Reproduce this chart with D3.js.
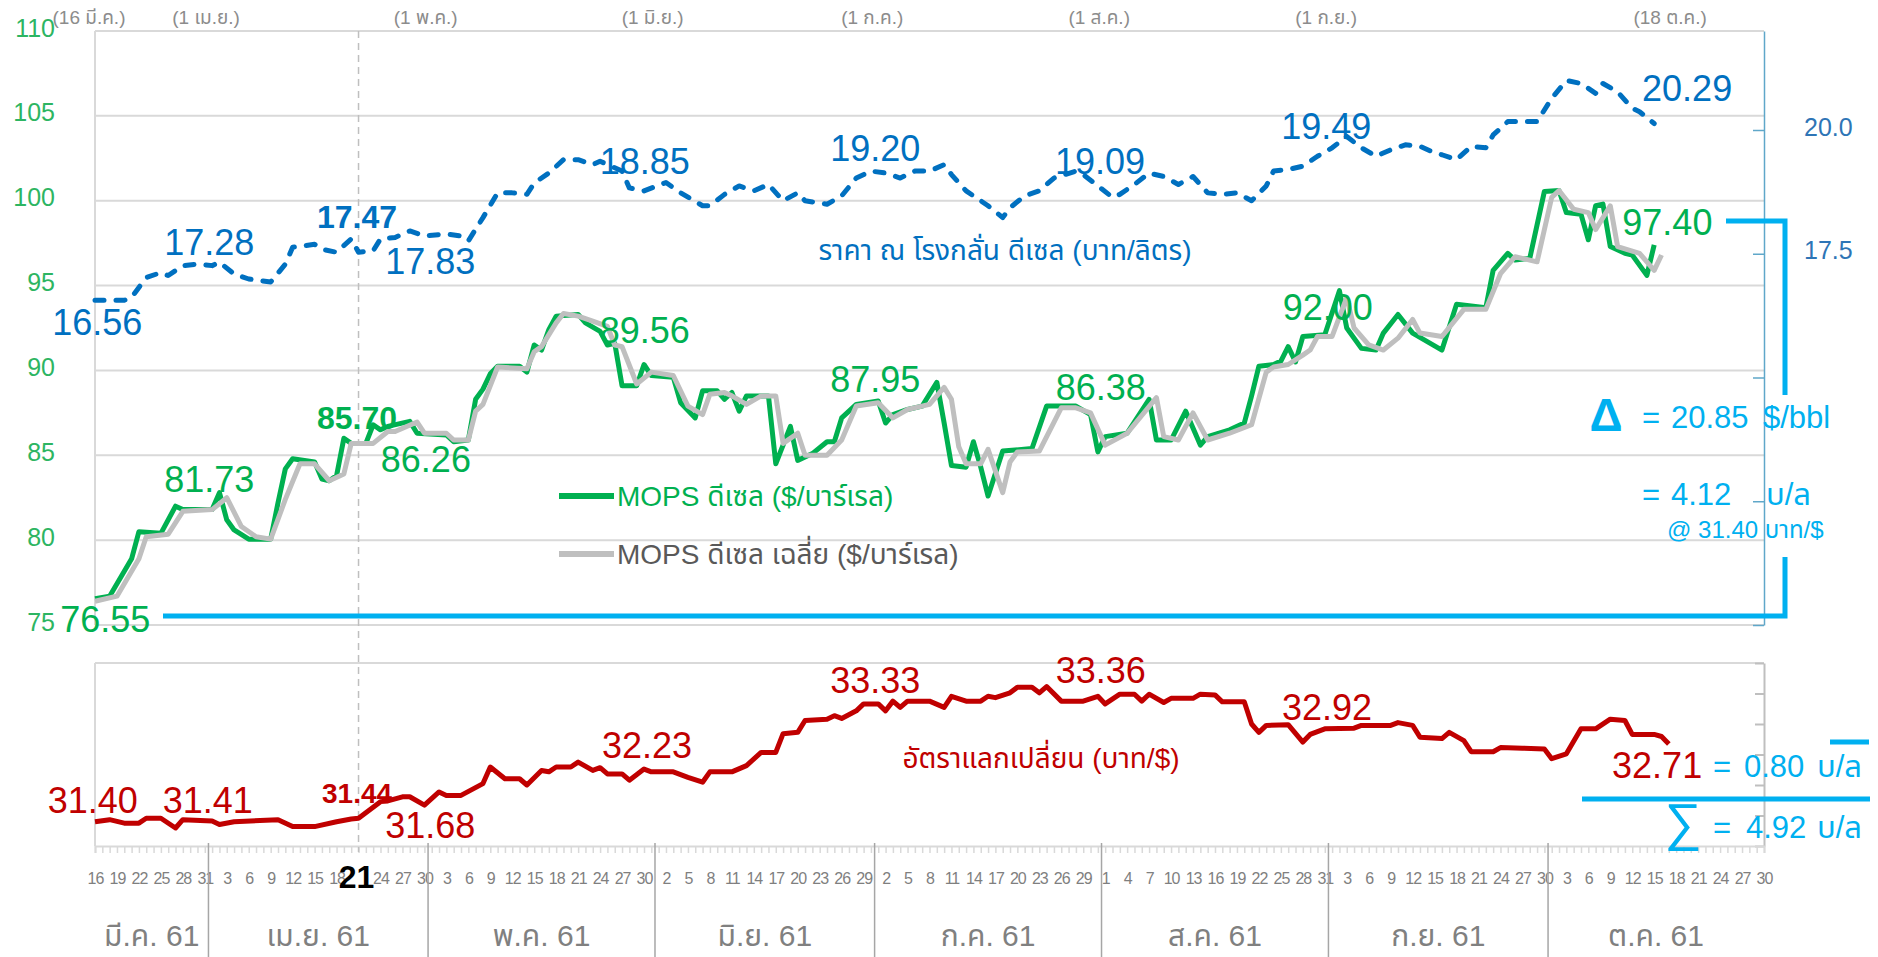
<!DOCTYPE html>
<html>
<head>
<meta charset="utf-8">
<script src="https://cdn.jsdelivr.net/npm/d3@7"></script>
<style>
  body { margin: 0; background: #fff; }
  svg { display: block; font-family: "Liberation Sans", "Noto Sans Thai", "Noto Sans", sans-serif; }
</style>
</head>
<body>
<svg id="chart" width="1878" height="957"></svg>
<script>
// day numbers are counted from 16 Mar 2018 (day 0)
var mopsDiesel = [[0,76.55],[2,76.7],[5,78.9],[6,80.5],[9,80.4],[11,82.0],[12,81.8],[16,81.8],[17,82.8],[18,81.2],[19,80.6],[21,80.06],[24,80.06],[25,82.2],[26,84.2],[27,84.8],[30,84.6],[31,83.6],[32,83.5],[33,83.8],[34,86.0],[35,85.7],[37,85.7],[38,86.8],[39,86.5],[40,86.7],[43,87.0],[44,86.3],[48,86.2],[49,85.8],[51,85.9],[52,88.3],[53,88.9],[54,89.8],[55,90.25],[58,90.25],[59,89.9],[60,91.5],[61,91.2],[62,92.4],[63,93.2],[66,93.3],[67,92.8],[69,92.3],[70,91.5],[71,91.6],[72,89.1],[74,89.1],[75,90.35],[76,89.7],[79,89.6],[80,88.1],[82,87.2],[83,88.8],[85,88.8],[86,88.3],[87,88.7],[88,87.6],[89,88.5],[92,88.5],[93,84.5],[95,86.7],[96,84.7],[97,84.9],[98,85.1],[100,85.8],[101,85.8],[102,87.2],[104,88.0],[107,88.2],[108,86.9],[109,87.4],[111,87.7],[113,87.9],[115,89.3],[116,86.9],[117,84.4],[119,84.3],[120,85.8],[121,84.3],[122,82.6],[124,85.25],[128,85.4],[130,87.9],[134,87.9],[136,87.4],[137,85.2],[138,86.1],[141,86.3],[144,88.3],[145,85.9],[147,85.9],[149,87.6],[151,85.6],[152,86.1],[155,86.5],[157,86.9],[158,88.5],[159,90.25],[161,90.35],[162,90.55],[163,91.4],[164,90.5],[165,92.0],[168,92.1],[170,94.7],[171,92.5],[173,91.3],[175,91.2],[176,92.2],[178,93.3],[180,92.2],[184,91.2],[186,93.9],[190,93.7],[191,95.9],[193,96.9],[194,96.5],[196,96.6],[198,100.55],[200,100.6],[201,99.3],[203,99.2],[204,97.7],[205,99.7],[206,99.8],[207,97.3],[209,96.9],[210,96.8],[212,95.6],[213,97.4]];

var mopsDieselAvg = [[0,76.4],[3,76.7],[6,78.9],[7,80.2],[10,80.35],[12,81.7],[16,81.8],[18,82.5],[20,80.8],[22,80.2],[24,80.06],[26,82.4],[28,84.5],[30,84.5],[32,83.5],[34,83.9],[35,85.7],[38,85.7],[40,86.4],[41,86.4],[44,86.96],[45,86.3],[48,86.3],[49,85.9],[51,85.9],[52,87.6],[53,88.0],[55,90.2],[59,90.1],[60,91.1],[61,91.4],[63,92.8],[64,93.35],[66,93.2],[68,92.9],[70,92.6],[71,91.5],[72,91.4],[74,89.2],[76,89.9],[79,89.7],[81,87.9],[83,87.4],[84,88.6],[86,88.7],[87,88.5],[89,88.0],[91,88.5],[93,88.5],[94,85.7],[96,86.3],[97,85.0],[100,85.0],[102,85.9],[104,87.9],[107,88.1],[109,87.2],[111,87.7],[114,88.0],[116,89.0],[117,88.3],[118,85.5],[119,84.5],[121,84.5],[122,85.35],[124,82.8],[125,84.6],[126,85.2],[129,85.25],[132,87.8],[134,87.8],[136,87.5],[138,85.6],[141,86.3],[145,88.4],[146,86.1],[148,85.9],[150,87.5],[152,85.9],[155,86.3],[158,86.8],[160,89.9],[161,90.2],[163,90.35],[165,90.9],[166,91.2],[167,92.0],[169,92.0],[171,94.3],[172,92.5],[174,91.5],[176,91.2],[178,91.9],[180,93.0],[181,92.2],[184,92.0],[187,93.6],[190,93.6],[192,95.7],[194,96.7],[197,96.4],[199,100.2],[200,100.6],[202,99.5],[204,99.3],[205,98.3],[207,99.7],[208,97.3],[211,96.9],[213,95.9],[214,96.8]];

var refineryPrice = [[0,16.56],[4,16.56],[5,16.62],[7,17.02],[9,17.12],[10,17.06],[12,17.26],[14,17.29],[16,17.26],[17,17.33],[19,17.09],[21,16.99],[24,16.93],[26,17.29],[27,17.63],[30,17.69],[31,17.59],[33,17.53],[35,17.8],[36,17.53],[38,17.56],[39,17.8],[41,17.83],[43,17.96],[45,17.86],[48,17.9],[50,17.86],[51,17.76],[53,18.23],[55,18.73],[57,18.73],[59,18.7],[60,18.93],[62,19.13],[64,19.4],[66,19.4],[68,19.3],[69,19.37],[72,19.17],[73,18.83],[75,18.77],[78,18.94],[80,18.73],[83,18.47],[84,18.47],[86,18.7],[88,18.87],[90,18.77],[92,18.9],[94,18.57],[96,18.73],[97,18.57],[100,18.5],[102,18.67],[104,19.03],[106,19.17],[108,19.13],[110,19.03],[112,19.17],[114,19.17],[116,19.3],[117,19.1],[119,18.77],[121,18.57],[122,18.47],[124,18.23],[125,18.43],[127,18.67],[129,18.77],[131,19.03],[134,19.17],[135,19.1],[137,18.87],[139,18.64],[140,18.7],[142,18.9],[144,19.13],[146,19.06],[148,18.9],[150,19.06],[152,18.73],[154,18.7],[156,18.73],[158,18.57],[160,18.87],[161,19.17],[163,19.2],[165,19.27],[167,19.47],[169,19.64],[171,19.87],[173,19.64],[175,19.47],[177,19.6],[179,19.7],[181,19.67],[183,19.54],[184,19.5],[186,19.4],[188,19.67],[190,19.64],[191,19.9],[193,20.17],[197,20.17],[199,20.64],[201,21.0],[203,20.94],[205,20.74],[206,20.94],[208,20.77],[210,20.44],[211,20.37],[213,20.13]];

var exchangeRate = [[0,31.40],[2,31.43],[4,31.38],[6,31.38],[7,31.45],[9,31.45],[11,31.31],[12,31.43],[16,31.41],[17,31.36],[19,31.40],[25,31.43],[27,31.33],[30,31.33],[33,31.40],[35,31.44],[36,31.45],[39,31.69],[40,31.70],[42,31.76],[43,31.76],[45,31.64],[47,31.83],[48,31.78],[50,31.78],[53,31.95],[54,32.19],[56,32.02],[58,32.02],[59,31.93],[61,32.14],[62,32.12],[63,32.19],[65,32.19],[66,32.26],[68,32.14],[69,32.18],[70,32.09],[72,32.09],[73,32.0],[75,32.16],[76,32.12],[79,32.12],[81,32.04],[83,31.97],[84,32.12],[87,32.12],[89,32.21],[91,32.4],[93,32.4],[94,32.67],[96,32.69],[97,32.86],[100,32.88],[101,32.93],[102,32.89],[104,33.0],[105,33.1],[107,33.1],[108,33.0],[109,33.14],[110,33.05],[111,33.14],[114,33.14],[116,33.05],[117,33.21],[119,33.14],[121,33.14],[122,33.21],[123,33.19],[125,33.26],[126,33.34],[128,33.34],[129,33.26],[130,33.35],[132,33.14],[135,33.14],[137,33.21],[138,33.1],[140,33.24],[142,33.24],[143,33.14],[144,33.24],[146,33.12],[147,33.18],[150,33.18],[151,33.24],[153,33.23],[154,33.13],[157,33.13],[158,32.81],[159,32.69],[160,32.79],[163,32.8],[165,32.55],[166,32.66],[168,32.74],[172,32.75],[173,32.79],[177,32.79],[178,32.83],[180,32.79],[181,32.62],[184,32.6],[185,32.69],[187,32.57],[188,32.41],[191,32.41],[192,32.47],[195,32.46],[198,32.45],[199,32.31],[201,32.38],[203,32.74],[205,32.74],[207,32.88],[209,32.86],[210,32.66],[213,32.66],[214,32.63],[215,32.52]];

var leftTicks = [75, 80, 85, 90, 95, 100, 105, 110];
var rightTicks = [10, 12.5, 15, 17.5, 20];
var rightTickLabels = [17.5, 20];
var monthNames = ["มี.ค. 61", "เม.ย. 61", "พ.ค. 61", "มิ.ย. 61", "ก.ค. 61", "ส.ค. 61", "ก.ย. 61", "ต.ค. 61"];
var monthStartDays = [0, 16, 46, 77, 107, 138, 169, 199, 229];
var topDateNames = ["(16 มี.ค.)", "(1 เม.ย.)", "(1 พ.ค.)", "(1 มิ.ย.)", "(1 ก.ค.)", "(1 ส.ค.)", "(1 ก.ย.)", "(18 ต.ค.)"];
var topDateDays = [0, 16, 46, 77, 107, 138, 169, 216];
var markedDay = 36; // 21 Apr

var priceLabels = ["16.56", "17.28", "17.47", "17.83", "18.85", "19.20", "19.09", "19.49", "20.29"];
var mopsLabels = ["76.55", "81.73", "85.70", "86.26", "89.56", "87.95", "86.38", "92.00", "97.40"];
var rateLabels = ["31.40", "31.41", "31.44", "31.68", "32.23", "33.33", "33.36", "32.92", "32.71"];

var start = new Date(2018, 2, 16);
function day(n) { return d3.timeDay.offset(start, n); }

var svg = d3.select("#chart");

var x = d3.scaleTime().domain([day(0), day(228)]).range([95, 1764]);
var yL = d3.scaleLinear().domain([75, 110]).range([625, 31]);
var yR = d3.scaleLinear().domain([10, 22]).range([625, 31]);
var yX = d3.scaleLinear().domain([31.05, 33.69]).range([846, 663]);
var dayW = x(day(1)) - x(day(0));

var grey = "#D9D9D9", green = "#00B050", blue = "#0070C0", red = "#C00000", cyan = "#00B0F0";

// ---- top panel grid
svg.append("g").selectAll("line")
  .data(leftTicks).enter().append("line")
  .attr("x1", 95).attr("x2", 1764)
  .attr("y1", function(d) { return yL(d); }).attr("y2", function(d) { return yL(d); })
  .attr("stroke", grey).attr("stroke-width", 2);
svg.append("line").attr("x1", 95).attr("x2", 95).attr("y1", 31).attr("y2", 625)
  .attr("stroke", grey).attr("stroke-width", 2);

var leftAxis = svg.append("g").attr("transform", "translate(95,0)")
  .call(d3.axisLeft(yL).tickValues(leftTicks).tickSize(0).tickPadding(40));
leftAxis.select(".domain").remove();
leftAxis.selectAll("text").attr("fill", "#2DB562").attr("font-size", 25).attr("dy", "0.2em");

var rightAxis = svg.append("g").attr("transform", "translate(1764,0)")
  .call(d3.axisRight(yR).tickValues(rightTicks).tickSizeInner(-11).tickSizeOuter(0).tickPadding(40)
    .tickFormat(function(d) { return rightTickLabels.indexOf(d) >= 0 ? d3.format(".1f")(d) : ""; }));
rightAxis.select(".domain").attr("stroke", "#5FA7C9").attr("stroke-width", 1.5);
rightAxis.selectAll("line").attr("stroke", "#5FA7C9").attr("stroke-width", 1.5);
rightAxis.selectAll("text").attr("fill", "#2E75B6").attr("font-size", 25).attr("dy", "0.2em");

// date labels along the top
svg.append("g").selectAll("text")
  .data(topDateNames).enter().append("text")
  .attr("x", function(d, i) { return x(day(topDateDays[i])) - 6; })
  .attr("y", 24)
  .attr("text-anchor", "middle")
  .attr("font-size", 19).attr("fill", "#8C8C8C")
  .text(function(d) { return d; });

// ---- bottom panel frame
svg.append("line").attr("x1", 95).attr("x2", 1764).attr("y1", 663).attr("y2", 663).attr("stroke", grey).attr("stroke-width", 2);
svg.append("line").attr("x1", 95).attr("x2", 95).attr("y1", 663).attr("y2", 846).attr("stroke", grey).attr("stroke-width", 2);

var rateTicks = d3.range(7).map(function(i) { return 31.05 + i * 0.44; });
var rateAxis = svg.append("g").attr("transform", "translate(1764,0)")
  .call(d3.axisRight(yX).tickValues(rateTicks).tickSizeInner(-9).tickSizeOuter(0).tickFormat(""));
rateAxis.select(".domain").attr("stroke", "#BFBFBF").attr("stroke-width", 2);
rateAxis.selectAll("line").attr("stroke", "#BFBFBF").attr("stroke-width", 2);

// daily minor ticks and day labels
var bottomAxis = svg.append("g").attr("transform", "translate(0,846)")
  .call(d3.axisBottom(x).ticks(d3.timeDay.every(1)).tickSize(7).tickFormat(""));
bottomAxis.select(".domain").attr("stroke", grey).attr("stroke-width", 2);
bottomAxis.selectAll("line").attr("stroke", grey).attr("stroke-width", 1.5);

var labelDays = d3.timeDay.range(day(0), day(229), 3);
var dayAxis = svg.append("g").attr("transform", "translate(0,846)")
  .call(d3.axisBottom(x).tickValues(labelDays).tickSize(0).tickPadding(27)
    .tickFormat(function(d) { return +d === +day(markedDay) ? "" : d.getDate(); }));
dayAxis.select(".domain").remove();
dayAxis.selectAll("text").attr("fill", "#7F7F7F").attr("font-size", 16).attr("letter-spacing", -1);

svg.append("text").attr("x", x(day(markedDay)) - 2).attr("y", 888)
  .attr("text-anchor", "middle").attr("font-size", 32).attr("font-weight", "bold").attr("fill", "#000")
  .text(d3.timeFormat("%-d")(day(markedDay)));

// month separators and month names
svg.append("g").selectAll("line")
  .data(monthStartDays.slice(1, -1)).enter().append("line")
  .attr("x1", function(d) { return x(day(d)) - dayW / 2; })
  .attr("x2", function(d) { return x(day(d)) - dayW / 2; })
  .attr("y1", 843).attr("y2", 957)
  .attr("stroke", "#A6A6A6").attr("stroke-width", 1.5);

svg.append("g").selectAll("text")
  .data(monthNames).enter().append("text")
  .attr("x", function(d, i) {
    var a = i === 0 ? x(day(0)) : x(day(monthStartDays[i])) - dayW / 2;
    var b = i === monthNames.length - 1 ? x(day(228)) : x(day(monthStartDays[i + 1])) - dayW / 2;
    return (a + b) / 2;
  })
  .attr("y", 946)
  .attr("text-anchor", "middle")
  .attr("font-size", 30).attr("fill", "#808080")
  .text(function(d) { return d; });

// vertical marker on 21 Apr
svg.append("line")
  .attr("x1", x(day(markedDay))).attr("x2", x(day(markedDay)))
  .attr("y1", 31).attr("y2", 852)
  .attr("stroke", "#BFBFBF").attr("stroke-width", 1.5).attr("stroke-dasharray", "7,5");

// ---- series
function lineFor(yScale) {
  return d3.line()
    .x(function(d) { return x(day(d[0])); })
    .y(function(d) { return yScale(d[1]); });
}

svg.append("path").datum(mopsDiesel)
  .attr("d", lineFor(yL)).attr("fill", "none")
  .attr("stroke", green).attr("stroke-width", 5).attr("stroke-linejoin", "round");

svg.append("path").datum(mopsDieselAvg)
  .attr("d", lineFor(yL)).attr("fill", "none")
  .attr("stroke", "#BFBFBF").attr("stroke-width", 5).attr("stroke-linejoin", "round");

svg.append("path").datum(refineryPrice)
  .attr("d", lineFor(yR)).attr("fill", "none")
  .attr("stroke", blue).attr("stroke-width", 5).attr("stroke-linejoin", "round")
  .attr("stroke-linecap", "round").attr("stroke-dasharray", "9,12");

svg.append("path").datum(exchangeRate)
  .attr("d", lineFor(yX)).attr("fill", "none")
  .attr("stroke", red).attr("stroke-width", 5).attr("stroke-linejoin", "round");

// ---- value labels (anchor: [day, value on the panel's scale])
var priceAnchors = [[0.3,16.12],[15.6,17.74],[35.8,18.26],[45.8,17.35],[75.1,19.37],[106.6,19.64],[137.3,19.37],[168.2,20.08],[217.5,20.85]];
var mopsAnchors = [[1.4,75.35],[15.6,83.6],[35.8,87.2],[45.2,84.78],[75.1,92.4],[106.6,89.5],[137.4,89.0],[168.4,93.74],[214.8,98.75]];
var rateAnchors = [[-0.3,31.71],[15.4,31.71],[35.8,31.81],[45.8,31.35],[75.4,32.51],[106.6,33.45],[137.4,33.59],[168.3,33.06],[213.4,32.22]];
var boldIndex = 2;

function valueLabels(texts, anchors, yScale, color, size, boldSize) {
  svg.append("g").selectAll("text")
    .data(texts).enter().append("text")
    .attr("x", function(d, i) { return x(day(0)) + anchors[i][0] * dayW; })
    .attr("y", function(d, i) { return yScale(anchors[i][1]); })
    .attr("dy", "0.36em")
    .attr("text-anchor", "middle")
    .attr("fill", color)
    .attr("font-size", function(d, i) { return i === boldIndex ? boldSize : size; })
    .attr("font-weight", function(d, i) { return i === boldIndex ? "bold" : "normal"; })
    .text(function(d) { return d; });
}
valueLabels(priceLabels, priceAnchors, yR, blue, 36, 32);
valueLabels(mopsLabels, mopsAnchors, yL, green, 36, 32);
valueLabels(rateLabels, rateAnchors, yX, red, 36, 28);

// series names
svg.append("text").attr("x", 1005).attr("y", 260).attr("text-anchor", "middle")
  .attr("font-size", 28).attr("fill", blue).text("ราคา ณ โรงกลั่น ดีเซล (บาท/ลิตร)");
svg.append("text").attr("x", 1041).attr("y", 768).attr("text-anchor", "middle")
  .attr("font-size", 28).attr("fill", red).text("อัตราแลกเปลี่ยน (บาท/$)");

var legend = [["MOPS ดีเซล ($/บาร์เรล)", green, green], ["MOPS ดีเซล เฉลี่ย ($/บาร์เรล)", "#BFBFBF", "#595959"]];
var lg = svg.append("g").selectAll("g").data(legend).enter().append("g")
  .attr("transform", function(d, i) { return "translate(559," + (496 + i * 58) + ")"; });
lg.append("line").attr("x1", 0).attr("x2", 55).attr("stroke", function(d) { return d[1]; }).attr("stroke-width", 6);
lg.append("text").attr("x", 58).attr("dy", "0.35em").attr("font-size", 28)
  .attr("fill", function(d) { return d[2]; }).text(function(d) { return d[0]; });

// ---- difference annotations
var ann = svg.append("g").attr("fill", cyan);
var stroke = { stroke: cyan, "stroke-width": 5, fill: "none" };
function cyanPath(d) {
  var p = ann.append("path").attr("d", d);
  Object.keys(stroke).forEach(function(k) { p.attr(k, stroke[k]); });
}
cyanPath("M163,616H1785V557");
cyanPath("M1726,221H1785V395");
cyanPath("M1830,742H1869");
cyanPath("M1582,799H1870");

ann.append("text").attr("x", 1606).attr("y", 431).attr("text-anchor", "middle")
  .attr("font-size", 46).attr("font-weight", "bold").text("Δ");
ann.append("text").attr("x", 1642).attr("y", 428).attr("font-size", 31).text("=");
ann.append("text").attr("x", 1671).attr("y", 428).attr("font-size", 31).text("20.85");
ann.append("text").attr("x", 1763).attr("y", 428).attr("font-size", 31).text("$/bbl");
ann.append("text").attr("x", 1642).attr("y", 505).attr("font-size", 31).text("=");
ann.append("text").attr("x", 1671).attr("y", 505).attr("font-size", 31).text("4.12");
ann.append("text").attr("x", 1766).attr("y", 505).attr("font-size", 31).text("บ/ล");
ann.append("text").attr("x", 1667).attr("y", 538).attr("font-size", 24).text("@ 31.40 บาท/$");

ann.append("text").attr("x", 1713).attr("y", 777).attr("font-size", 31).text("=");
ann.append("text").attr("x", 1744).attr("y", 777).attr("font-size", 31).text("0.80");
ann.append("text").attr("x", 1817).attr("y", 777).attr("font-size", 31).text("บ/ล");
ann.append("text").attr("x", 1683).attr("y", 840).attr("text-anchor", "middle")
  .attr("font-size", 52).text("∑");
ann.append("text").attr("x", 1713).attr("y", 838).attr("font-size", 31).text("=");
ann.append("text").attr("x", 1746).attr("y", 838).attr("font-size", 31).text("4.92");
ann.append("text").attr("x", 1817).attr("y", 838).attr("font-size", 31).text("บ/ล");
</script>
</body>
</html>
